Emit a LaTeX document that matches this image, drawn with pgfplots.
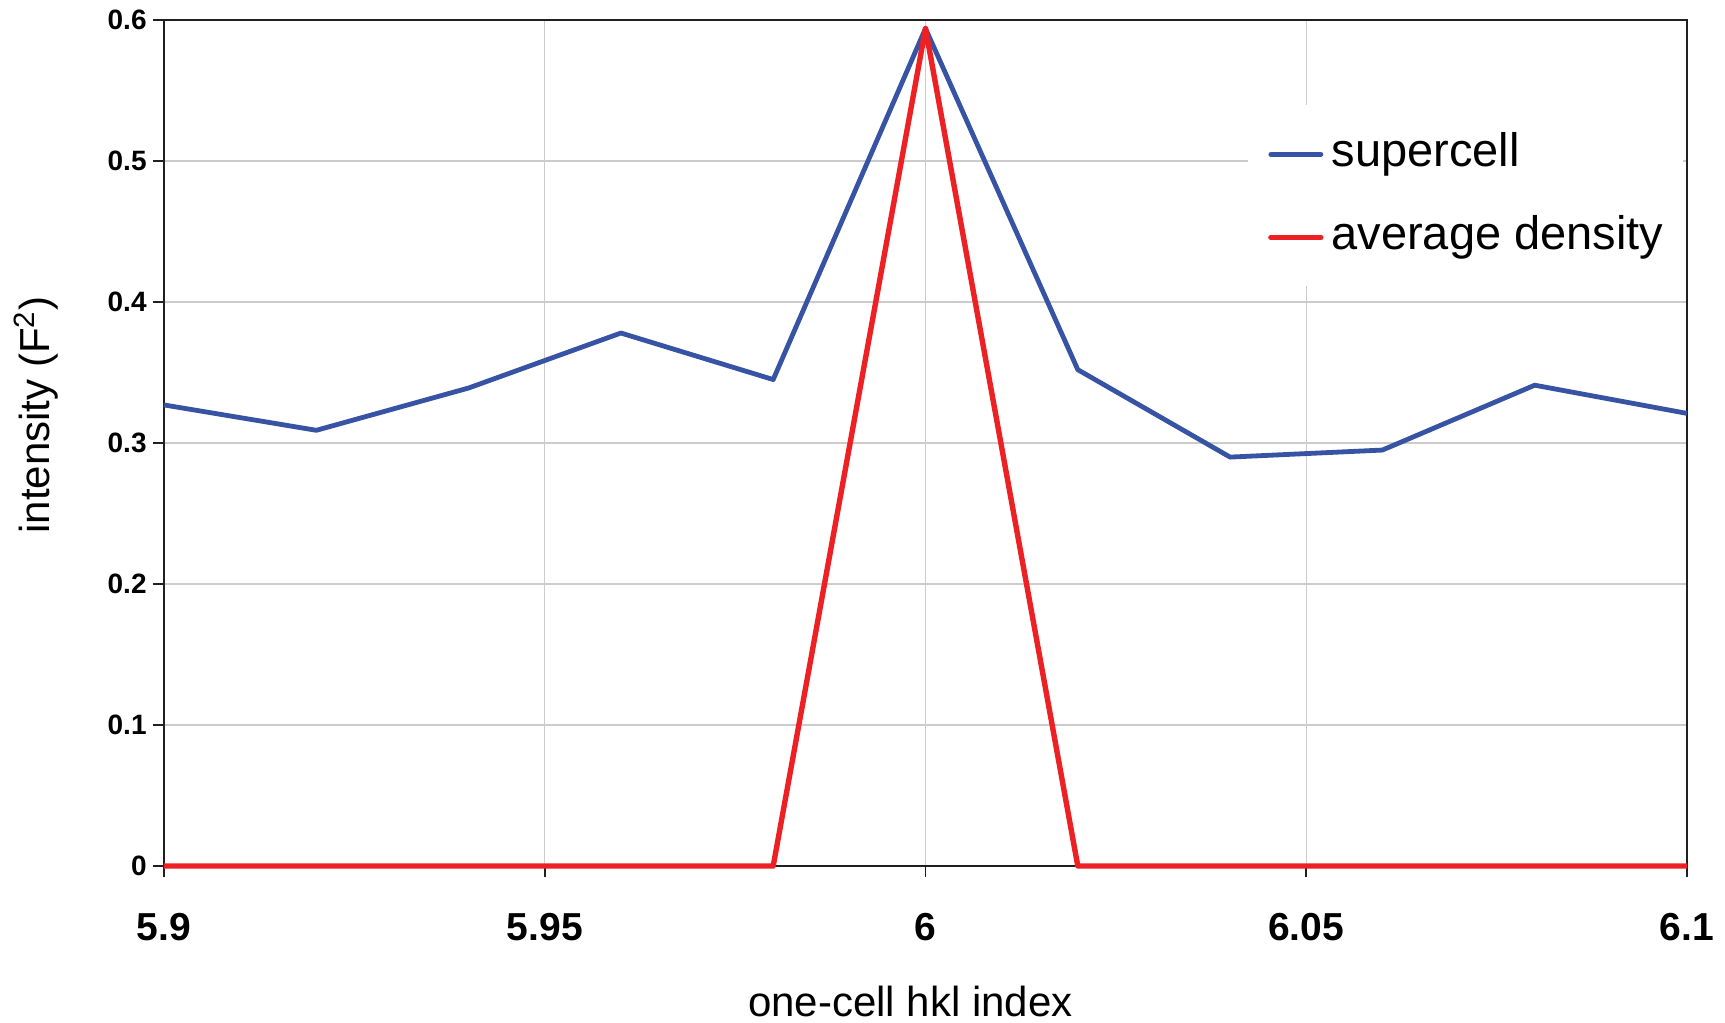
\documentclass[border=0pt]{standalone}
\usepackage{fontspec}
\setmainfont{Liberation Sans}
\usepackage{pgfplots}
\pgfplotsset{compat=1.18}

\definecolor{supblue}{RGB}{55,83,164}
\definecolor{avgred}{RGB}{237,32,36}
\definecolor{axisdark}{RGB}{35,31,32}
\definecolor{gridgray}{RGB}{204,204,204}

\begin{document}
\begin{tikzpicture}
\useasboundingbox (-82pt,-78.5pt) rectangle (780.5pt,433pt);
\begin{axis}[
  at={(0pt,0pt)}, anchor=south west,
  width=761.5pt, height=423pt, scale only axis,
  xmin=5.9, xmax=6.1, ymin=0, ymax=0.6,
  xtick={5.9,5.95,6,6.05,6.1},
  ytick={0,0.1,0.2,0.3,0.4,0.5,0.6},
  xtick pos=bottom, ytick pos=left,
  /pgf/number format/assume math mode=true,
  xticklabel style={font=\fontsize{19.5}{22}\selectfont\bfseries, inner sep=0pt, anchor=north, yshift=-18pt},
  yticklabel style={font=\fontsize{14}{16}\selectfont\bfseries, inner sep=0pt, anchor=east, xshift=-3pt},
  tick align=outside,
  major tick length=5.5pt,
  tick style={axisdark, line width=0.9pt},
  axis line style={axisdark, line width=1pt},
  grid=major,
  major grid style={gridgray, line width=0.6pt},
  xlabel={one-cell hkl index},
  ylabel={intensity (F\textsuperscript{2})},
  every axis x label/.style={at={(axis description cs:0.49,-0.16)}, anchor=center,
    font=\fontsize{21}{24}\selectfont},
  every axis y label/.style={at={(axis description cs:-0.084,0.533)}, rotate=90, anchor=center,
    font=\fontsize{21}{24}\selectfont},
  legend style={at={(axis description cs:0.7116,0.8995)}, anchor=north west,
    fill=white, draw=none, inner xsep=10pt, inner ysep=13.5pt,
    font=\fontsize{23.5}{26}\selectfont,
    nodes={inner sep=0pt, text height=17pt, text depth=5pt},
    row sep=19.5pt, column sep=4pt},
  legend cell align=left,
  legend image code/.code={\draw[#1, line cap=round] (0pt,0pt) -- (25pt,0pt);},
  every axis plot/.append style={line join=round},
  clip=false,
]
\addplot[supblue, line width=2.4pt] coordinates {
  (5.90,0.327) (5.92,0.309) (5.94,0.339) (5.96,0.378) (5.98,0.345)
  (6.00,0.594) (6.02,0.352) (6.04,0.290) (6.06,0.295) (6.08,0.341) (6.10,0.321)
};
\addlegendentry{supercell}
\addplot[avgred, line width=2.7pt] coordinates {
  (5.90,0) (5.92,0) (5.94,0) (5.96,0) (5.98,0)
  (6.00,0.594) (6.02,0) (6.04,0) (6.06,0) (6.08,0) (6.10,0)
};
\addlegendentry{average density}
\end{axis}
\end{tikzpicture}
\end{document}
